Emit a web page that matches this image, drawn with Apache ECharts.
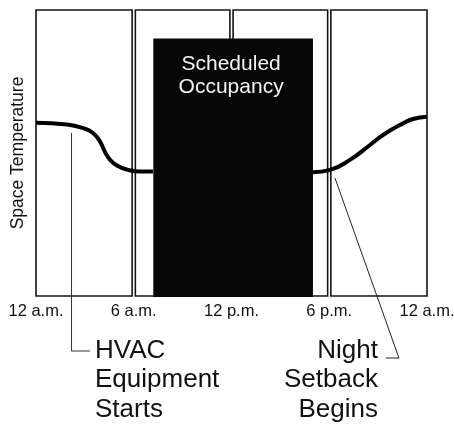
<!DOCTYPE html>
<html>
<head>
<meta charset="utf-8">
<script src="https://cdn.jsdelivr.net/npm/echarts@6/dist/echarts.min.js"></script>
<style>
  html, body { margin: 0; padding: 0; background: #fff; }
  #chart { width: 454px; height: 430px; }
</style>
</head>
<body>
<div id="chart"></div>
<script>
// Time axis: hours after midnight and their labels
const hourTicks = [0, 6, 12, 18, 24];
const tickLabels = ['12 a.m.', '6 a.m.', '12 p.m.', '6 p.m.', '12 a.m.'];

// Six-hour panels across the day: [start hour, end hour]
const panels = [[0, 6], [6, 12], [12, 18], [18, 24]];

// Scheduled occupancy block: [start hour, end hour, top level]
const occupancy = [[7.2, 17.0, 90]];
const occupancyLabel = 'Scheduled\nOccupancy';

// Space temperature, [hour, relative level]
const morningTemp = [
  [0, 60.6], [1.9, 60.0], [2.9, 58.7], [3.5, 57.0], [3.93, 54.0], [4.24, 50.3],
  [4.54, 47.7], [4.97, 45.6], [5.59, 44.2], [6.38, 43.5], [7.18, 43.5]
];
const eveningTemp = [
  [17.0, 43.3], [18.05, 44.1], [19.27, 47.6], [20.5, 52.8], [21.3, 56.3],
  [22.34, 59.8], [23.14, 61.9], [24, 62.7]
];

// Callouts: [hour, level] where each leader line starts
const hvacPoint = [2.18, 57];
const setbackPoint = [18.35, 41.3];
const hvacText = 'HVAC\nEquipment\nStarts';
const setbackText = 'Night\nSetback\nBegins';

const FONT = '"Liberation Sans", Arial, Helvetica, sans-serif';
const chart = echarts.init(document.getElementById('chart'), null, { renderer: 'canvas' });

const option = {
  animation: false,
  backgroundColor: '#fff',
  grid: { left: 36, right: 27, top: 10, bottom: 134, outerBoundsMode: 'none', containLabel: false },
  xAxis: {
    type: 'value', min: 0, max: 24, interval: 6,
    axisLine: { show: false }, axisTick: { show: false }, splitLine: { show: false },
    axisLabel: {
      margin: 7, fontSize: 16.5, color: '#111', fontFamily: FONT,
      formatter: v => tickLabels[hourTicks.indexOf(v)]
    }
  },
  yAxis: {
    type: 'value', min: 0, max: 100,
    axisLine: { show: false }, axisTick: { show: false }, splitLine: { show: false },
    axisLabel: { show: false },
    name: 'Space Temperature', nameLocation: 'middle', nameGap: 9,
    nameTextStyle: { fontSize: 17.5, color: '#111', fontFamily: FONT }
  },
  series: [
    {
      type: 'custom', name: 'panels', z: 1, silent: true,
      data: panels,
      renderItem: (params, api) => {
        const s = api.value(0), e = api.value(1);
        const tl = api.coord([s, 100]);
        const br = api.coord([e, 0]);
        const il = s > 0 ? 1.6 : 0;
        const ir = e < 24 ? 1.6 : 0;
        return {
          type: 'rect',
          shape: { x: tl[0] + il, y: tl[1], width: br[0] - tl[0] - il - ir, height: br[1] - tl[1] },
          style: { fill: '#fff', stroke: '#151515', lineWidth: 1.6 }
        };
      }
    },
    {
      type: 'line', name: 'morning', z: 3, silent: true,
      data: morningTemp, showSymbol: false, smooth: 0.5,
      lineStyle: { color: '#000', width: 4 }
    },
    {
      type: 'line', name: 'evening', z: 3, silent: true,
      data: eveningTemp, showSymbol: false, smooth: 0.5,
      lineStyle: { color: '#000', width: 4 }
    },
    {
      type: 'custom', name: 'occupancy', z: 4, silent: true,
      data: occupancy,
      renderItem: (params, api) => {
        const tl = api.coord([api.value(0), api.value(2)]);
        const br = api.coord([api.value(1), 0]);
        const w = br[0] - tl[0];
        return {
          type: 'group',
          children: [
            {
              type: 'rect',
              shape: { x: tl[0], y: tl[1], width: w, height: br[1] - tl[1] + 1 },
              style: { fill: '#060606' }
            },
            {
              type: 'text',
              style: {
                text: occupancyLabel, x: tl[0] + w / 2 - 2, y: tl[1] + 14,
                fill: '#f4f4f4', fontSize: 21, fontFamily: FONT,
                align: 'center', verticalAlign: 'top', lineHeight: 23
              }
            }
          ]
        };
      }
    }
  ]
};

chart.setOption(option);

// Leader lines and callout texts, anchored to the chart's coordinates
const hv = chart.convertToPixel({ gridIndex: 0 }, hvacPoint);
const nb = chart.convertToPixel({ gridIndex: 0 }, setbackPoint);
const baseY = chart.convertToPixel({ gridIndex: 0 }, [0, 0])[1];

chart.setOption({
  graphic: [
    {
      type: 'polyline', z: 10, silent: true,
      shape: { points: [[hv[0], hv[1]], [hv[0], baseY + 55], [hv[0] + 18.5, baseY + 55]] },
      style: { stroke: '#333', lineWidth: 1, fill: null }
    },
    {
      type: 'text', z: 10, silent: true,
      style: {
        text: hvacText, x: hv[0] + 23.5, y: baseY + 40,
        fill: '#111', fontSize: 26, fontFamily: FONT,
        align: 'left', verticalAlign: 'top', lineHeight: 29.5
      }
    },
    {
      type: 'polyline', z: 10, silent: true,
      shape: { points: [[nb[0], nb[1]], [nb[0] + 64, baseY + 62], [nb[0] + 51, baseY + 62]] },
      style: { stroke: '#222', lineWidth: 1, fill: null }
    },
    {
      type: 'text', z: 10, silent: true,
      style: {
        text: setbackText, x: nb[0] + 43, y: baseY + 40,
        fill: '#111', fontSize: 26, fontFamily: FONT,
        align: 'right', verticalAlign: 'top', lineHeight: 29.5
      }
    }
  ]
});
</script>
</body>
</html>
